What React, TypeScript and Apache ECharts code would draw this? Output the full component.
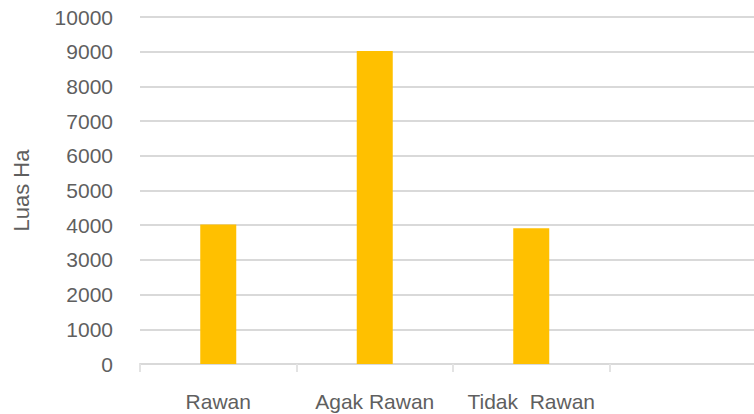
import React, { useEffect, useRef } from "react";
import * as echarts from "echarts";

const categories = ["Rawan", "Agak Rawan", "Tidak  Rawan", ""];
const luasHa = [4020, 9020, 3910, null];
const yMin = 0;
const yMax = 10000;
const yInterval = 1000;

export default function App() {
  const ref = useRef<HTMLDivElement>(null);
  useEffect(() => {
    if (!ref.current) return;
    const chart = echarts.init(ref.current, undefined, { renderer: "svg" });
    const font = "'Liberation Sans', Arial, sans-serif";
    chart.setOption({
      animation: false,
      grid: { left: 140, right: 2, top: 17, bottom: 50, containLabel: false },
      xAxis: {
        type: "category",
        data: categories,
        axisLine: { show: true, lineStyle: { color: "#d9d9d9", width: 2 } },
        axisTick: { show: true, interval: 0, length: 8, lineStyle: { color: "#e3e3e3", width: 2 } },
        axisLabel: { color: "#5f5f5f", fontSize: 21, fontFamily: font, margin: 27, interval: 0 },
      },
      yAxis: {
        type: "value",
        min: yMin,
        max: yMax,
        interval: yInterval,
        name: "Luas Ha",
        nameLocation: "middle",
        nameRotate: 90,
        nameGap: 108,
        nameTextStyle: { color: "#5f5f5f", fontSize: 22, fontFamily: font },
        axisLine: { show: false },
        axisTick: { show: false },
        splitLine: { lineStyle: { color: "#d9d9d9", width: 2 } },
        axisLabel: {
          color: "#5f5f5f",
          fontSize: 21,
          fontFamily: font,
          margin: 27,
          formatter: (v: number) => String(v),
        },
      },
      series: [
        {
          type: "bar",
          data: luasHa,
          barWidth: 36,
          itemStyle: { color: "#FFC000" },
        },
      ],
    });
    return () => chart.dispose();
  }, []);
  return (
    <div
      ref={ref}
      style={{ position: "fixed", left: 0, top: 0, width: 768, height: 414, background: "#fff" }}
    />
  );
}
